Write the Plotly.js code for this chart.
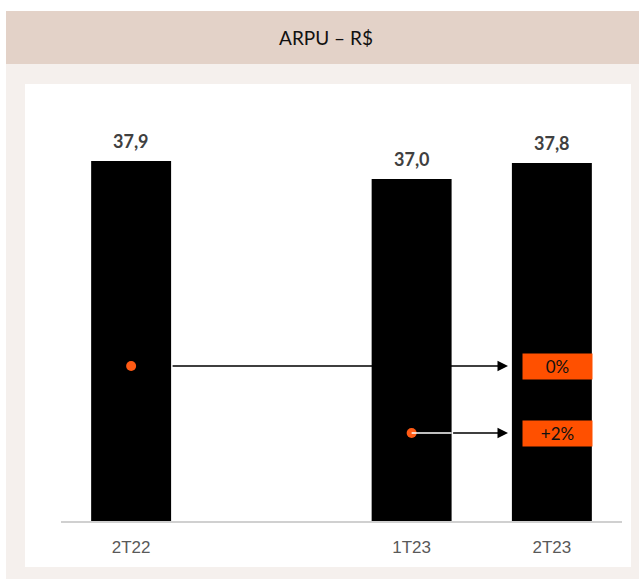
<!DOCTYPE html>
<html>
<head>
<meta charset="utf-8">
<script src="https://cdn.plot.ly/plotly-3.0.1.min.js"></script>
<style>html,body{margin:0;padding:0;background:#fff;}#chart{width:639px;height:579px;}</style>
</head>
<body>
<div id="chart"></div>
<script>
// ---- data ----
const categories = ['2T22', ' ', '1T23', '2T23'];
const arpu = [37.9, null, 37.0, 37.8];
const changeLabels = ['0%', '+2%'];
const changeFrom = ['2T22', '1T23'];
const titleText = 'ARPU – R$';

// ---- layout constants (pixels of the 639x579 frame) ----
const W = 639, H = 579;
const L = 61, R = 622, T = 100, B = 521;
const pw = R - L, ph = B - T;
const yMin = 19.9, yMax = yMin + ph / 20;
const px = x => (x - L) / pw;
const py = y => (B - y) / ph;

const fmt = v => v.toFixed(1).replace('.', ',');
const barWidth = 0.57;
const barIdx = c => categories.indexOf(c);

// vertical positions of comparison lines (data units)
const lineY = [yMin + (B - 366) / 20, yMin + (B - 433) / 20];
const headX = (508 - L) / (pw / 4) - 0.5;
const boxX = (557.5 - L) / (pw / 4) - 0.5;

const traces = [
  {
    type: 'bar', x: categories, y: arpu, width: barWidth,
    marker: {color: '#000000'}, hoverinfo: 'skip', cliponaxis: false
  },
  {
    type: 'scatter', mode: 'markers', x: changeFrom, y: lineY,
    marker: {color: '#ff5a14', size: 10}, hoverinfo: 'skip'
  }
];

const shapes = [
  // outer light background
  {type: 'rect', xref: 'paper', yref: 'paper', x0: px(6), x1: px(W + 2), y0: py(64), y1: py(H + 2), fillcolor: '#f5f0ed', line: {width: 0}, layer: 'below'},
  // header band
  {type: 'rect', xref: 'paper', yref: 'paper', x0: px(6), x1: px(W + 2), y0: py(11), y1: py(64), fillcolor: '#e3d2c8', line: {width: 0}, layer: 'below'},
  // inner white panel
  {type: 'rect', xref: 'paper', yref: 'paper', x0: px(25), x1: px(631), y0: py(84), y1: py(567), fillcolor: '#ffffff', line: {width: 0}, layer: 'below'},
  // white segment of second line over bar
  {type: 'line', xref: 'x', yref: 'y', x0: barIdx('1T23'), x1: barIdx('1T23') + barWidth / 2, y0: lineY[1], y1: lineY[1], line: {color: '#ffffff', width: 1.5}}
];

const annotations = [];
// value labels
categories.forEach((c, i) => {
  if (arpu[i] == null) return;
  annotations.push({
    x: c, y: arpu[i], xref: 'x', yref: 'y', text: fmt(arpu[i]), showarrow: false,
    yanchor: 'bottom', yshift: 7,
    font: {family: 'Lato, "Open Sans", sans-serif', size: 18, color: '#404040', weight: 'bold'}
  });
});
// arrows + boxes
changeFrom.forEach((c, i) => {
  const x0 = barIdx(c) + barWidth / 2;
  annotations.push({
    x: headX, y: lineY[i], ax: x0, ay: lineY[i], xref: 'x', yref: 'y', axref: 'x', ayref: 'y',
    text: '', showarrow: true, arrowhead: 2, arrowsize: 1.4, arrowwidth: 1.5, arrowcolor: '#000000', standoff: 0
  });
  annotations.push({
    x: boxX, y: lineY[i], xref: 'x', yref: 'y', text: changeLabels[i], showarrow: false,
    bgcolor: '#ff5000', width: 67, height: 23, borderpad: 1,
    font: {family: 'Lato, "Open Sans", sans-serif', size: 17, color: '#111111'}
  });
});

const layout = {
  width: W, height: H,
  margin: {l: L, r: W - R, t: T, b: H - B, pad: 0},
  paper_bgcolor: '#ffffff', plot_bgcolor: 'rgba(0,0,0,0)',
  showlegend: false,
  title: {
    text: titleText, x: (326) / W, xanchor: 'center', xref: 'container',
    y: 1 - 38 / H, yanchor: 'middle', yref: 'container',
    font: {family: 'Lato, "Open Sans", sans-serif', size: 19, color: '#111111'}
  },
  xaxis: {
    type: 'category', categoryorder: 'array', categoryarray: categories,
    range: [-0.5, 3.5], showgrid: false, zeroline: false,
    showline: true, linecolor: '#d0d0d0', linewidth: 1.5,
    ticks: '', ticklabelstandoff: 10,
    tickfont: {family: '"Liberation Sans", Arial, sans-serif', size: 17, color: '#595959'},
    fixedrange: true
  },
  yaxis: {
    range: [yMin, yMax], visible: false, showgrid: false, zeroline: false, fixedrange: true
  },
  shapes: shapes,
  annotations: annotations
};

Plotly.newPlot('chart', traces, layout, {displayModeBar: false, staticPlot: true});
</script>
</body>
</html>
